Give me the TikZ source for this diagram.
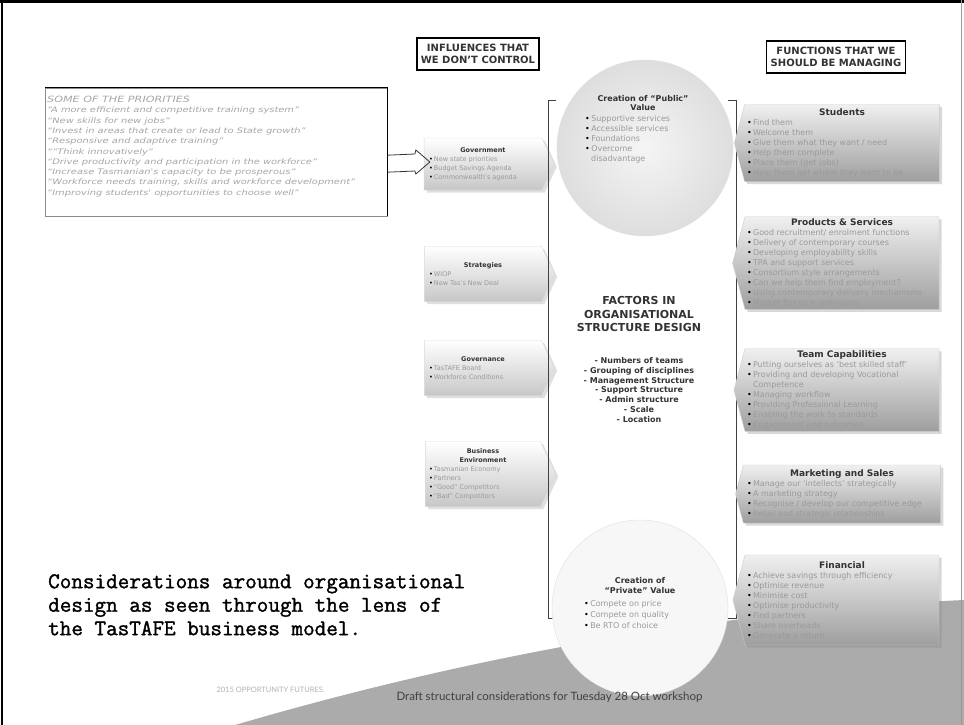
\documentclass[tikz,border=0pt]{standalone}
\usepackage{fontspec}
\setmainfont{DejaVu Sans}
\newfontfamily\typefont[FakeBold=1.4]{Latin Modern Mono}
\newfontfamily\footfont{Lato}
\newfontfamily\wideit[FakeStretch=1.3]{DejaVu Sans}
\usetikzlibrary{shapes.symbols, shadows, calc, positioning}

\definecolor{txtgrey}{HTML}{9A9A9A}
\definecolor{headgrey}{HTML}{333333}
\definecolor{wedgegrey}{HTML}{ABABAB}

\newcommand{\bul}[1]{\hangindent=6pt\hangafter=1{\color{black}\textbullet}\,#1\par}
\newcommand{\boxtxt}[3]{\begin{minipage}{#1}\centering{\bfseries\color{headgrey}#2\par}\raggedright\color{txtgrey}#3\end{minipage}}

\tikzset{
  inarrow/.style={signal, signal to=east, signal pointer angle=130,
    top color=white, bottom color=black!22, draw=black!15,
    drop shadow={opacity=0.25}, inner sep=2pt, font=\fontsize{6.5}{9}\selectfont},
  outarrow/.style={signal, signal to=west, signal pointer angle=150,
    top color=black!6, bottom color=black!38, draw=black!20,
    drop shadow={opacity=0.3}, inner sep=2pt, font=\fontsize{8}{10}\selectfont},
  headbox/.style={draw=black, line width=1.4pt, fill=white, align=center,
    text=headgrey, font=\bfseries\fontsize{10}{12.5}\selectfont, inner xsep=4pt, inner ysep=6pt},
  valuedisc/.style={circle, minimum size=176pt, draw=black!12},
  bracketline/.style={draw=black!75, line width=0.8pt},
}

\begin{document}
\begin{tikzpicture}[x=1pt,y=-1pt]
\useasboundingbox (0,0) rectangle (964,725);
\fill[white] (0,0) rectangle (964,725);
% grey sweep along the bottom
\fill[wedgegrey] (235,725) .. controls (450,662) and (700,612) .. (964,600) -- (964,725) -- cycle;
% scanned page edges
\draw[line width=3pt] (0,2) -- (964,2);
\draw[line width=2pt] (1.5,0) -- (1.5,725);
\draw[black!40] (961,0) -- (961,725);

% column headings
\node[headbox] (infl) at (478,54) {INFLUENCES THAT\\WE DON'T CONTROL};
\node[headbox] (func) at (836,57) {FUNCTIONS THAT WE\\SHOULD BE MANAGING};

% priorities
\node[draw=black!45, minimum width=342pt, minimum height=128pt, anchor=north west] (prio) at (45,88) {};
\draw[line width=1pt] (prio.north west) -- (prio.north east) -- (prio.south east);
\node[anchor=north west, align=left, text=black!35, inner sep=2pt,
  font=\wideit\itshape\fontsize{7.6}{10.3}\selectfont] (priotxt) at ($(prio.north west)+(0,6)$) {%
  {\fontsize{8.6}{10.3}\selectfont SOME OF THE PRIORITIES}\\
  “A more efficient and competitive training system”\\
  “New skills for new jobs”\\
  “Invest in areas that create or lead to State growth”\\
  “Responsive and adaptive training”\\
  ““Think innovatively”\\
  “Drive productivity and participation in the workforce”\\
  “Increase Tasmanian's capacity to be prosperous”\\
  “Workforce needs training, skills and workforce development”\\
  “Improving students' opportunities to choose well”};

% influences
\node[inarrow, minimum height=52pt, minimum width=130pt] (gov) at (483,164)
  {\boxtxt{108pt}{Government}{\bul{New state priorities}\bul{Budget Savings Agenda}\bul{Commonwealth's agenda}}};
\node[inarrow, minimum height=55pt, minimum width=130pt] (strat) at (483,274)
  {\boxtxt{108pt}{Strategies}{\bul{WIOP}\bul{New Tas's New Deal}}};
\node[inarrow, minimum height=55pt, minimum width=130pt] (gover) at (483,368)
  {\boxtxt{108pt}{Governance}{\bul{TasTAFE Board}\bul{Workforce Conditions}}};
\node[inarrow, minimum height=65pt, minimum width=130pt] (busenv) at (483,474)
  {\boxtxt{108pt}{Business\\Environment}{\bul{Tasmanian Economy}\bul{Partners}\bul{“Good” Competitors}\bul{“Bad” Competitors}}};

% hollow arrow from the priorities
\coordinate (tip) at ($(gov.west)+(6,-2)$);
\draw[black!80, line width=0.8pt] ($(prio.east)+(0,3)$) -- ($(tip)+(-15,-8)$) -- ($(tip)+(-14,-12)$) -- (tip)
  -- ($(tip)+(-14,12)$) -- ($(tip)+(-15,9)$) -- ($(prio.east)+(0,20)$);

% centre column
\draw[bracketline] (556,100) -- (548,100) -- (548,618) -- (556,618);
\draw[bracketline] (728,100) -- (736,100) -- (736,618) -- (728,618);
\node[valuedisc, inner color=black!4, outer color=black!13] (public) at (645,148) {};
\node[align=center, font=\bfseries\fontsize{8}{9.5}\selectfont, text=headgrey] (publictitle) at (643,103)
  {Creation of “Public”\\Value};
\node[anchor=north west, inner sep=0pt, font=\fontsize{8}{10}\selectfont] (publiclist) at (585,115)
  {\begin{minipage}{90pt}\color{txtgrey}\bul{Supportive services}\bul{Accessible services}\bul{Foundations}\bul{Overcome\\\mbox{disadvantage}}\end{minipage}};

\node[align=center, font=\bfseries\fontsize{11}{13.5}\selectfont, text=headgrey] (factors) at (639,314)
  {FACTORS IN\\ORGANISATIONAL\\STRUCTURE DESIGN};
\node[align=center, font=\bfseries\fontsize{8}{9.8}\selectfont, text=headgrey] (factorlist) at (639,390)
  {- Numbers of teams\\- Grouping of disciplines\\- Management Structure\\- Support Structure\\- Admin structure\\- Scale\\- Location};

\node[valuedisc, fill=black!3] (private) at (640,608) {};
\node[align=center, font=\bfseries\fontsize{8}{10}\selectfont, text=headgrey] (privatetitle) at (640,586)
  {Creation of\\“Private” Value};
\node[anchor=north west, inner sep=0pt, font=\fontsize{8}{11}\selectfont] (privatelist) at (584,600)
  {\begin{minipage}{100pt}\color{txtgrey}\bul{Compete on price}\bul{Compete on quality}\bul{Be RTO of choice}\end{minipage}};

% functions
\node[outarrow, minimum height=77pt, minimum width=205pt] (stud) at (842,143)
  {\boxtxt{190pt}{\fontsize{9}{11}\selectfont Students}{\bul{Find them}\bul{Welcome them}\bul{Give them what they want / need}\bul{Help them complete}\bul{Place them (get jobs)}\bul{Help them get where they want to be.}}};
\node[outarrow, minimum height=92pt, minimum width=205pt] (prod) at (842,263)
  {\boxtxt{190pt}{\fontsize{9}{11}\selectfont Products \& Services}{\bul{Good recruitment/ enrolment functions}\bul{Delivery of contemporary courses}\bul{Developing employability skills}\bul{TPA and support services}\bul{Consortium style arrangements}\bul{Can we help them find employment?}\bul{Using contemporary delivery mechanisms}\bul{Market forces in provisions}}};
\node[outarrow, minimum height=82pt, minimum width=205pt] (team) at (842,390)
  {\boxtxt{190pt}{\fontsize{9}{11}\selectfont Team Capabilities}{\bul{Putting ourselves as ‘best skilled staff’}\bul{Providing and developing Vocational Competence}\bul{Managing workflow}\bul{Providing Professional Learning}\bul{Enabling the work to standards}\bul{Engagement and outcomes}}};
\node[outarrow, minimum height=58pt, minimum width=205pt] (mark) at (842,494)
  {\boxtxt{190pt}{\fontsize{9}{11}\selectfont Marketing and Sales}{\bul{Manage our ‘intellects’ strategically}\bul{A marketing strategy}\bul{Recognise / develop our competitive edge}\bul{Retail and strategic relationships}}};
\node[outarrow, minimum height=90pt, minimum width=205pt] (fin) at (842,600)
  {\boxtxt{190pt}{\fontsize{9}{11}\selectfont Financial}{\bul{Achieve savings through efficiency}\bul{Optimise revenue}\bul{Minimise cost}\bul{Optimise productivity}\bul{Find partners}\bul{Share overheads}\bul{Generate a return}}};

% caption and footer
\node[anchor=north west, align=left, inner sep=0pt, font=\typefont\fontsize{22.5}{23.5}\selectfont] (caption) at (48,574)
  {Considerations around organisational\\design as seen through the lens of\\the TasTAFE business model.};
\node[anchor=west, text=black!30, font=\footfont\fontsize{7.5}{9}\selectfont] (brand) at (213,690) {2015 OPPORTUNITY FUTURES.};
\node[anchor=west, text=black!75, font=\footfont\fontsize{11.5}{13}\selectfont] (footer) at (393,697)
  {Draft structural considerations for Tuesday 28 Oct workshop};
\end{tikzpicture}
\end{document}
